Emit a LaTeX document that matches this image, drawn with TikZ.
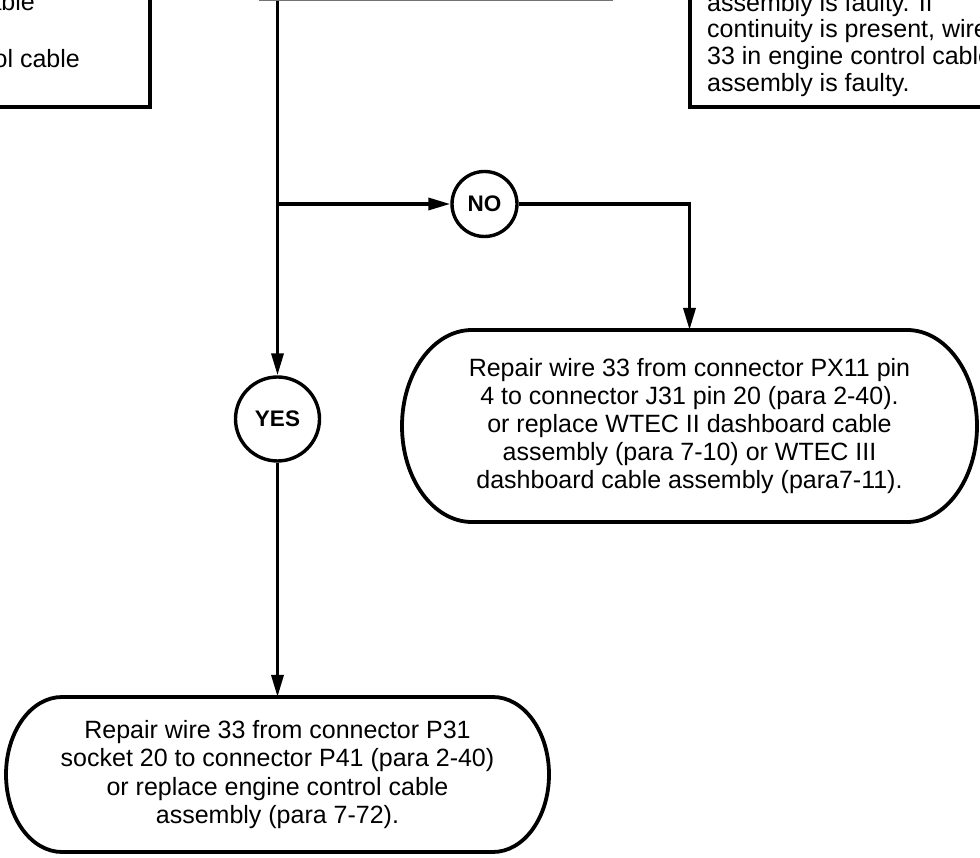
\documentclass[tikz,border=0pt]{standalone}
\usepackage{fontspec}
\setmainfont{Liberation Sans}
\usetikzlibrary{arrows.meta}
\tikzset{
  conn/.style={line width=3.4pt, -{Triangle[length=22pt,width=12pt]}},
  boxline/.style={draw, line width=3.8pt, inner sep=0pt},
  dec/.style={circle, draw, line width=3.4pt, inner sep=0pt, font=\fontsize{22.5}{26}\selectfont\bfseries},
  termtext/.style={align=center, inner sep=0pt, outer sep=0pt, font=\fontsize{25}{28.2}\selectfont},
  termline/.style={line width=3.8pt},
  bodytext/.style={inner sep=0pt, font=\fontsize{25}{27.5}\selectfont}
}
\begin{document}
\begin{tikzpicture}[x=1pt,y=1pt]
\useasboundingbox (0,0) rectangle (980,857);
\clip (0,0) rectangle (980,857);
\fill[white] (0,0) rectangle (980,857);

% partially visible boxes at the top
\node[boxline, draw=black!55, minimum width=350pt, minimum height=49pt] (topbox) at (436,882.2) {};
\node[boxline, minimum width=210pt, minimum height=167pt] (lbox) at (45,833.5) {};
\node[boxline, minimum width=410pt, minimum height=167pt] (rbox) at (895,833.5) {};

\node[bodytext, anchor=base east] (l1) at (35,846) {able};
\node[bodytext, anchor=base east] (l2) at (80,789) {ol cable};

\node[bodytext, anchor=base west] (r1) at (707,845.5) {assembly is faulty. If};
\node[bodytext, anchor=base west] (r2) at (707,819) {continuity is present, wire};
\node[bodytext, anchor=base west] (r3) at (707,792) {33 in engine control cable};
\node[bodytext, anchor=base west] (r4) at (707,765) {assembly is faulty.};

% decisions
\node[dec, minimum size=65pt] (no) at (484.5,653) {NO};
\node[dec, minimum size=84pt] (yes) at (277.5,438) {YES};

% terminals
\node[termtext, minimum width=575pt, minimum height=192pt] (rterm) at (689.5,431)
  {Repair wire 33 from connector PX11 pin\\
   4 to connector J31 pin 20 (para 2-40).\\
   or replace WTEC II dashboard cable\\
   assembly (para 7-10) or WTEC III\\
   dashboard cable assembly (para7-11).};
\draw[termline] ([xshift=70pt]rterm.north west) -- ([xshift=-70pt]rterm.north east)
  arc[start angle=90,end angle=-90,x radius=70pt,y radius=96pt]
  -- ([xshift=70pt]rterm.south west)
  arc[start angle=270,end angle=90,x radius=70pt,y radius=96pt] -- cycle;

\node[termtext, minimum width=543pt, minimum height=155pt] (bterm) at (277.5,82.5)
  {Repair wire 33 from connector P31\\
   socket 20 to connector P41 (para 2-40)\\
   or replace engine control cable\\
   assembly (para 7-72).};
\draw[termline] ([xshift=56pt]bterm.north west) -- ([xshift=-56pt]bterm.north east)
  arc[start angle=90,end angle=-90,x radius=56pt,y radius=77.5pt]
  -- ([xshift=56pt]bterm.south west)
  arc[start angle=270,end angle=90,x radius=56pt,y radius=77.5pt] -- cycle;

% connectors
\coordinate (br) at (yes.north |- no.west);
\draw[conn] (topbox.south -| yes.north) -- (yes.north);
\draw[conn] (br) -- (no.west);
\draw[conn] (no.east) -| (rterm.north);
\draw[conn] (yes.south) -- (bterm.north);
\end{tikzpicture}
\end{document}
